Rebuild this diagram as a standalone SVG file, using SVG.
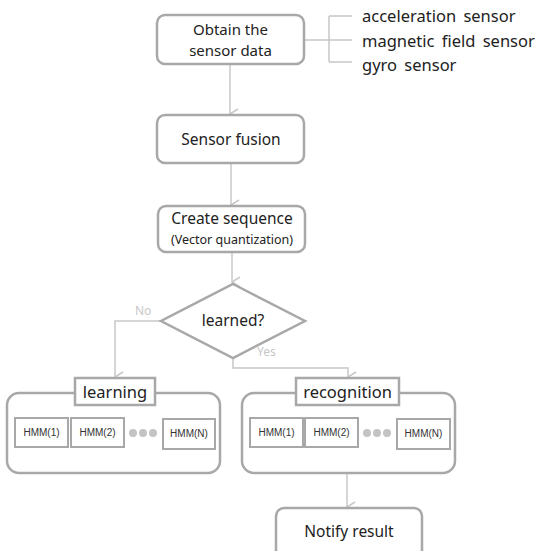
<svg xmlns="http://www.w3.org/2000/svg" width="543" height="551" viewBox="0 0 543 551">
<style>
.box{fill:#fff;stroke:#a8a8a8;stroke-width:2.5}
.hmm{fill:#fff;stroke:#a8a8a8;stroke-width:2}
.con{fill:none;stroke:#c8c8c8;stroke-width:1.5}
.t{font-family:"Noto Sans","Open Sans",sans-serif;fill:#222;text-anchor:middle}
.lbl{font-family:"Noto Sans","Open Sans",sans-serif;fill:#c8c8c8;font-size:12px}
.h{font-family:"Liberation Sans",Arial,sans-serif;font-size:10px;fill:#333;text-anchor:middle}
.dot{fill:#c4c4c4}
</style>
<defs>
<marker id="arr" markerWidth="12" markerHeight="10" refX="6" refY="9" orient="auto" markerUnits="userSpaceOnUse" viewBox="0 0 12 10">
<path d="M1,1 L6,9 L11,1" fill="none" stroke="#c8c8c8" stroke-width="1.5"/>
</marker>
</defs>
<rect width="543" height="551" fill="#fff"/>
<g id="connectors">
<path class="con" d="M304,40 H329 M329,16 V62 M329,16 H352 M329,40 H352 M329,62 H352"/>
<path class="con" d="M230,64 V114" marker-end="url(#arr)"/>
<path class="con" d="M231,163 V205" marker-end="url(#arr)"/>
<path class="con" d="M232,252 V282" marker-end="url(#arr)"/>
<path class="con" d="M161,321 H115 V377" marker-end="url(#arr)"/>
<path class="con" d="M233,358 V368 H348 V377" marker-end="url(#arr)"/>
<path class="con" d="M347,473 V507" marker-end="url(#arr)"/>
<text class="lbl" x="135" y="315">No</text>
<text class="lbl" x="257" y="356">Yes</text>
</g>
<g id="sensors">
<text class="t" style="text-anchor:start;font-size:16.5px;word-spacing:3px" x="362" y="22">acceleration sensor</text>
<text class="t" style="text-anchor:start;font-size:16.5px;word-spacing:3px" x="362" y="47">magnetic field sensor</text>
<text class="t" style="text-anchor:start;font-size:16.5px;word-spacing:3px" x="362" y="71">gyro sensor</text>
</g>
<g id="obtain">
<rect class="box" x="157" y="15" width="147" height="49" rx="8"/>
<text class="t" font-size="15" x="230.5" y="35">Obtain the</text>
<text class="t" font-size="15" x="230.5" y="56">sensor data</text>
</g>
<g id="fusion">
<rect class="box" x="157" y="115" width="147" height="48" rx="8"/>
<text class="t" font-size="15.5" x="231" y="145">Sensor fusion</text>
</g>
<g id="sequence">
<rect class="box" x="158" y="206" width="147" height="46" rx="8"/>
<text class="t" font-size="15.5" x="232" y="224">Create sequence</text>
<text class="t" font-size="12.5" x="232" y="244">(Vector quantization)</text>
</g>
<g id="learned">
<polygon class="box" points="233,284 305,321 233,358 161,321"/>
<text class="t" font-size="15.5" x="233" y="326">learned?</text>
</g>
<g id="learning">
<rect class="box" x="7" y="393" width="213" height="80" rx="12"/>
<rect class="box" x="75" y="378" width="80" height="27"/>
<text class="t" font-size="16.5" x="115" y="398">learning</text>
<rect class="hmm" x="15" y="418" width="53" height="29"/>
<text class="h" x="41.5" y="436">HMM(1)</text>
<rect class="hmm" x="71" y="418" width="53" height="29"/>
<text class="h" x="97.5" y="436">HMM(2)</text>
<circle class="dot" cx="133" cy="433" r="4"/>
<circle class="dot" cx="143" cy="433" r="4"/>
<circle class="dot" cx="153" cy="433" r="4"/>
<rect class="hmm" x="163" y="419" width="52" height="30"/>
<text class="h" x="189" y="437">HMM(N)</text>
</g>
<g id="recognition">
<rect class="box" x="242" y="393" width="213" height="80" rx="12"/>
<rect class="box" x="296" y="378" width="103" height="27"/>
<text class="t" font-size="16.5" x="347.5" y="398">recognition</text>
<rect class="hmm" x="250" y="418" width="53" height="29"/>
<text class="h" x="276.5" y="436">HMM(1)</text>
<rect class="hmm" x="305" y="418" width="53" height="29"/>
<text class="h" x="331.5" y="436">HMM(2)</text>
<circle class="dot" cx="367" cy="433" r="4"/>
<circle class="dot" cx="377" cy="433" r="4"/>
<circle class="dot" cx="387" cy="433" r="4"/>
<rect class="hmm" x="397" y="419" width="53" height="30"/>
<text class="h" x="423.5" y="437">HMM(N)</text>
</g>
<g id="notify">
<rect class="box" x="276" y="508" width="146" height="50" rx="8"/>
<text class="t" font-size="15.5" x="349" y="537">Notify result</text>
</g>
</svg>
